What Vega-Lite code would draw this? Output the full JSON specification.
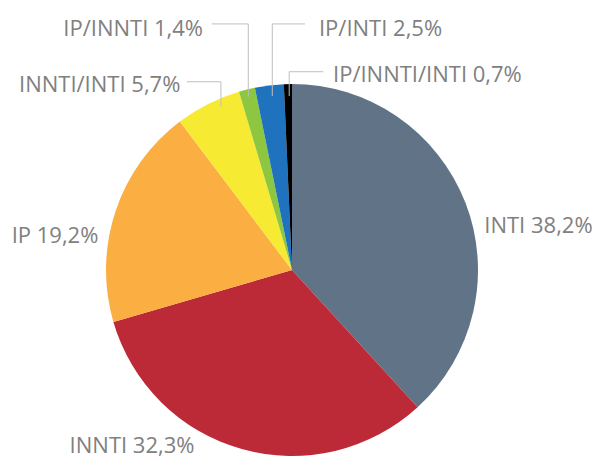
{
  "$schema": "https://vega.github.io/schema/vega-lite/v6.json",
  "width": 372,
  "height": 372,
  "autosize": {"type": "none"},
  "padding": {"left": 106, "top": 84, "right": 116, "bottom": 4},
  "background": "white",
  "config": {"view": {"stroke": null}},
  "datasets": {
    "slices": [
      {"group": "INTI", "share": 38.2, "rank": 1},
      {"group": "INNTI", "share": 32.3, "rank": 2},
      {"group": "IP", "share": 19.2, "rank": 3},
      {"group": "INNTI/INTI", "share": 5.7, "rank": 4},
      {"group": "IP/INNTI", "share": 1.4, "rank": 5},
      {"group": "IP/INTI", "share": 2.5, "rank": 6},
      {"group": "IP/INNTI/INTI", "share": 0.7, "rank": 7}
    ],
    "labels": [
      {"label": "INTI 38,2%", "u": 1.325, "v": 0.199},
      {"label": "INNTI 32,3%", "u": -0.86, "v": -0.984},
      {"label": "IP 19,2%", "u": -1.274, "v": 0.145},
      {"label": "INNTI/INTI 5,7%", "u": -1.034, "v": 0.959},
      {"label": "IP/INNTI 1,4%", "u": -0.854, "v": 1.258},
      {"label": "IP/INTI 2,5%", "u": 0.476, "v": 1.258},
      {"label": "IP/INNTI/INTI 0,7%", "u": 0.728, "v": 1.012}
    ],
    "leaders": [
      {"group": "INNTI/INTI", "step": 1, "u": -0.566, "v": 1.012},
      {"group": "INNTI/INTI", "step": 2, "u": -0.382, "v": 1.012},
      {"group": "INNTI/INTI", "step": 3, "u": -0.382, "v": 0.878},
      {"group": "IP/INNTI", "step": 1, "u": -0.432, "v": 1.323},
      {"group": "IP/INNTI", "step": 2, "u": -0.235, "v": 1.323},
      {"group": "IP/INNTI", "step": 3, "u": -0.235, "v": 0.932},
      {"group": "IP/INTI", "step": 1, "u": 0.07, "v": 1.323},
      {"group": "IP/INTI", "step": 2, "u": -0.106, "v": 1.323},
      {"group": "IP/INTI", "step": 3, "u": -0.106, "v": 0.935},
      {"group": "IP/INNTI/INTI", "step": 1, "u": 0.168, "v": 1.066},
      {"group": "IP/INNTI/INTI", "step": 2, "u": -0.015, "v": 1.066},
      {"group": "IP/INNTI/INTI", "step": 3, "u": -0.015, "v": 0.935}
    ]
  },
  "layer": [
    {
      "data": {"name": "slices"},
      "mark": {"type": "arc", "stroke": null},
      "encoding": {
        "theta": {"field": "share", "type": "quantitative", "stack": true},
        "order": {"field": "rank", "type": "quantitative"},
        "color": {
          "field": "group",
          "type": "nominal",
          "legend": null,
          "scale": {
            "domain": ["INTI", "INNTI", "IP", "INNTI/INTI", "IP/INNTI", "IP/INTI", "IP/INNTI/INTI"],
            "range": ["#607387", "#BD2A37", "#FBAF42", "#F7EA33", "#8DC63F", "#1F73BE", "#000000"]
          }
        }
      }
    },
    {
      "data": {"name": "leaders"},
      "mark": {"type": "line", "color": "#BFBFBF", "strokeWidth": 1},
      "encoding": {
        "x": {"field": "u", "type": "quantitative", "scale": {"domain": [-1, 1], "nice": false, "zero": false}, "axis": null},
        "y": {"field": "v", "type": "quantitative", "scale": {"domain": [-1, 1], "nice": false, "zero": false}, "axis": null},
        "detail": {"field": "group", "type": "nominal"},
        "order": {"field": "step", "type": "quantitative"}
      }
    },
    {
      "data": {"name": "labels"},
      "mark": {"type": "text", "font": "Open Sans", "fontSize": 22, "fontWeight": 400, "color": "#808080", "align": "center", "baseline": "alphabetic"},
      "encoding": {
        "x": {"field": "u", "type": "quantitative", "scale": {"domain": [-1, 1], "nice": false, "zero": false}, "axis": null},
        "y": {"field": "v", "type": "quantitative", "scale": {"domain": [-1, 1], "nice": false, "zero": false}, "axis": null},
        "text": {"field": "label", "type": "nominal"}
      }
    }
  ]
}
